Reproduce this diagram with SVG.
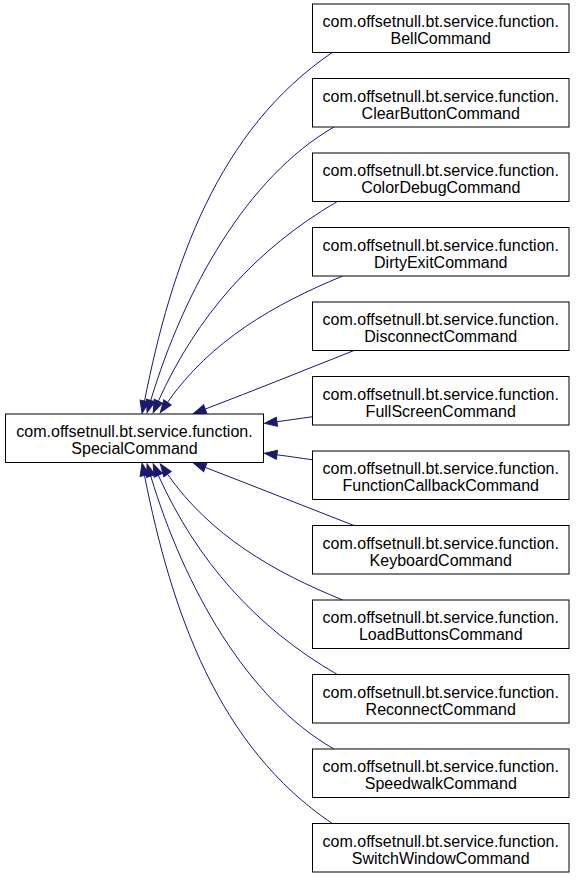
<svg xmlns="http://www.w3.org/2000/svg" width="576" height="880" viewBox="0 0 576 880">
<style>
.box{fill:#ffffff;stroke:#000000;stroke-width:1}
.lbl{font-family:"Liberation Sans",Arial,Helvetica,sans-serif;font-size:16px;fill:#000000;text-anchor:middle}
.edge{fill:none;stroke:#191970;stroke-width:1;marker-end:url(#arr)}
</style>
<defs>
<marker id="arr" markerUnits="userSpaceOnUse" viewBox="0 0 13 9" markerWidth="13" markerHeight="9" refX="0" refY="4.5" orient="auto" overflow="visible">
<path d="M0,0 L12.5,4.5 L0,9 Z" fill="#191970" stroke="#191970" stroke-width="1"/>
</marker>
</defs>
<rect width="576" height="880" fill="#ffffff"/>
<g id="connectors">
<path class="edge" d="M332.3,52.5 C217.8,130 171.5,265 144.5,401"/>
<path class="edge" d="M334,127 C247,177 184,290 150.7,400.5"/>
<path class="edge" d="M337.3,201.5 C255.9,249 196.8,315.7 158.3,401.2"/>
<path class="edge" d="M342.7,276 C273.7,304.5 210.5,340.9 167.5,402.3"/>
<path class="edge" d="M354,350.5 C305,370 255,390 205.2,409.1"/>
<path class="edge" d="M312.5,416.7 C300,418.5 290,420 276.9,421.7"/>
<path class="edge" d="M312.5,459.8 C300,458 290,456.5 276.9,454.8"/>
<path class="edge" d="M354,525.5 C305,506.5 255,486.5 205.2,467.4"/>
<path class="edge" d="M342.7,600 C273.7,572 210.5,535.6 167.5,474.2"/>
<path class="edge" d="M337.3,674.5 C255.9,627.5 196.8,560.8 158.3,475.3"/>
<path class="edge" d="M334,749 C247,699.5 184,586.5 150.7,476"/>
<path class="edge" d="M332.3,823.5 C217.8,746.5 171.5,611.5 144.5,475.5"/>
</g>
<g id="SpecialCommand">
<rect class="box" x="5.5" y="414" width="258" height="48.5"/>
<text class="lbl" x="134.5" y="437">com.offsetnull.bt.service.function.</text>
<text class="lbl" x="134.5" y="454">SpecialCommand</text>
</g>
<g id="BellCommand">
<rect class="box" x="312.5" y="4" width="256.5" height="48.5"/>
<text class="lbl" x="440.75" y="27">com.offsetnull.bt.service.function.</text>
<text class="lbl" x="440.75" y="44">BellCommand</text>
</g>
<g id="ClearButtonCommand">
<rect class="box" x="312.5" y="78.5" width="256.5" height="48.5"/>
<text class="lbl" x="440.75" y="101.5">com.offsetnull.bt.service.function.</text>
<text class="lbl" x="440.75" y="118.5">ClearButtonCommand</text>
</g>
<g id="ColorDebugCommand">
<rect class="box" x="312.5" y="153" width="256.5" height="48.5"/>
<text class="lbl" x="440.75" y="176">com.offsetnull.bt.service.function.</text>
<text class="lbl" x="440.75" y="193">ColorDebugCommand</text>
</g>
<g id="DirtyExitCommand">
<rect class="box" x="312.5" y="227.5" width="256.5" height="48.5"/>
<text class="lbl" x="440.75" y="250.5">com.offsetnull.bt.service.function.</text>
<text class="lbl" x="440.75" y="267.5">DirtyExitCommand</text>
</g>
<g id="DisconnectCommand">
<rect class="box" x="312.5" y="302" width="256.5" height="48.5"/>
<text class="lbl" x="440.75" y="325">com.offsetnull.bt.service.function.</text>
<text class="lbl" x="440.75" y="342">DisconnectCommand</text>
</g>
<g id="FullScreenCommand">
<rect class="box" x="312.5" y="376.5" width="256.5" height="48.5"/>
<text class="lbl" x="440.75" y="399.5">com.offsetnull.bt.service.function.</text>
<text class="lbl" x="440.75" y="416.5">FullScreenCommand</text>
</g>
<g id="FunctionCallbackCommand">
<rect class="box" x="312.5" y="451" width="256.5" height="48.5"/>
<text class="lbl" x="440.75" y="474">com.offsetnull.bt.service.function.</text>
<text class="lbl" x="440.75" y="491">FunctionCallbackCommand</text>
</g>
<g id="KeyboardCommand">
<rect class="box" x="312.5" y="525.5" width="256.5" height="48.5"/>
<text class="lbl" x="440.75" y="548.5">com.offsetnull.bt.service.function.</text>
<text class="lbl" x="440.75" y="565.5">KeyboardCommand</text>
</g>
<g id="LoadButtonsCommand">
<rect class="box" x="312.5" y="600" width="256.5" height="48.5"/>
<text class="lbl" x="440.75" y="623">com.offsetnull.bt.service.function.</text>
<text class="lbl" x="440.75" y="640">LoadButtonsCommand</text>
</g>
<g id="ReconnectCommand">
<rect class="box" x="312.5" y="674.5" width="256.5" height="48.5"/>
<text class="lbl" x="440.75" y="697.5">com.offsetnull.bt.service.function.</text>
<text class="lbl" x="440.75" y="714.5">ReconnectCommand</text>
</g>
<g id="SpeedwalkCommand">
<rect class="box" x="312.5" y="749" width="256.5" height="48.5"/>
<text class="lbl" x="440.75" y="772">com.offsetnull.bt.service.function.</text>
<text class="lbl" x="440.75" y="789">SpeedwalkCommand</text>
</g>
<g id="SwitchWindowCommand">
<rect class="box" x="312.5" y="823.5" width="256.5" height="48.5"/>
<text class="lbl" x="440.75" y="846.5">com.offsetnull.bt.service.function.</text>
<text class="lbl" x="440.75" y="863.5">SwitchWindowCommand</text>
</g>
</svg>
